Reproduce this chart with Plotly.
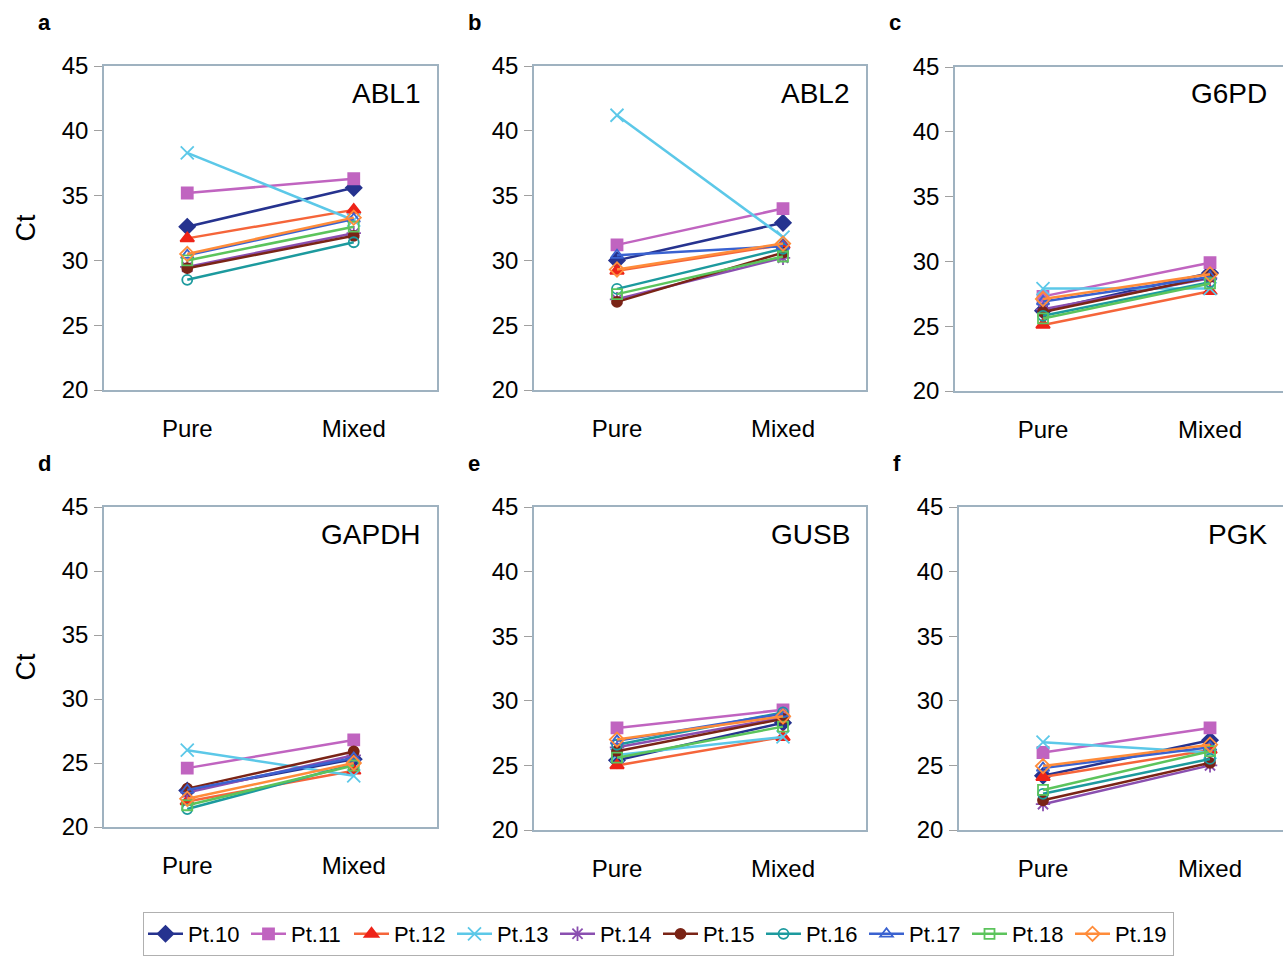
import plotly.graph_objects as go

conditions = ["Pure", "Mixed"]
patients = ["Pt.10", "Pt.11", "Pt.12", "Pt.13", "Pt.14", "Pt.15", "Pt.16", "Pt.17", "Pt.18", "Pt.19"]
genes = ["ABL1", "ABL2", "G6PD", "GAPDH", "GUSB", "PGK"]
panel_letters = ["a", "b", "c", "d", "e", "f"]

# Ct values per gene: list of [Pure, Mixed] per patient (Pt.10 .. Pt.19)
abl1 = [[32.6, 35.6], [35.2, 36.3], [31.7, 33.9], [38.3, 33.1], [29.5, 32.1],
        [29.4, 31.9], [28.5, 31.4], [30.4, 33.2], [30.0, 32.6], [30.5, 33.3]]
abl2 = [[30.0, 32.9], [31.2, 34.0], [29.2, 31.2], [41.2, 31.8], [27.0, 30.2],
        [26.8, 30.6], [27.8, 30.9], [30.4, 31.1], [27.4, 30.3], [29.3, 31.3]]
g6pd = [[26.2, 29.1], [27.3, 29.9], [25.1, 27.7], [27.9, 27.9], [26.3, 28.7],
        [26.1, 28.8], [25.8, 28.4], [26.9, 28.8], [25.6, 28.3], [27.1, 29.0]]
gapdh = [[22.85, 25.3], [24.6, 26.8], [22.0, 24.4], [26.0, 24.0], [22.7, 25.6],
         [23.0, 25.9], [21.4, 24.9], [22.9, 25.4], [21.7, 24.8], [22.2, 25.0]]
gusb = [[25.4, 28.3], [27.9, 29.3], [25.0, 27.2], [25.8, 27.2], [26.4, 28.7],
        [26.1, 28.6], [26.6, 29.1], [26.9, 29.0], [25.6, 28.0], [27.0, 28.8]]
pgk = [[24.2, 26.95], [26.0, 27.9], [24.1, 26.2], [26.8, 26.0], [22.0, 25.0],
       [22.3, 25.2], [22.8, 25.5], [24.8, 26.4], [23.1, 26.1], [24.95, 26.6]]
gene_data = [abl1, abl2, g6pd, gapdh, gusb, pgk]

y_ticks = [20, 25, 30, 35, 40, 45]

# styles
line_colors = ["#26338f", "#c064c0", "#f5653a", "#5cc8e8", "#8a4fb0",
               "#7a2416", "#1c9a9e", "#3a62d0", "#5cc45c", "#ff8c3a"]
marker_colors = ["#26338f", "#c064c0", "#ee2318", "#5cc8e8", "#8a4fb0",
                 "#7a2416", "#1c9a9e", "#3a62d0", "#5cc45c", "#ff8c3a"]
symbols = ["diamond", "square", "triangle-up", "x-thin-open", "asterisk-open",
           "circle", "circle-open", "triangle-up-open", "square-open", "diamond-open"]
sizes = [12, 11, 12, 13, 12, 10, 10, 11, 10, 11]

W, H = 1283, 960
# panel pixel boxes: (left, right, top, bottom, xrange)
panels = [
    (104, 437, 66, 390, [-0.5, 1.5]),
    (534, 866, 66, 390, [-0.5, 1.5]),
    (955, 1283, 67, 391, [-0.527, 1.437]),
    (104, 437, 507, 827, [-0.5, 1.5]),
    (534, 866, 507, 830, [-0.5, 1.5]),
    (959, 1283, 507, 830, [-0.503, 1.437]),
]

fig = go.Figure()
axis_line = "#9fb2c0"
font_family = "Liberation Sans, Arial, sans-serif"

for gi, data in enumerate(gene_data):
    xa = "x" if gi == 0 else f"x{gi+1}"
    ya = "y" if gi == 0 else f"y{gi+1}"
    for pi, pname in enumerate(patients):
        fig.add_trace(go.Scatter(
            x=conditions, y=data[pi], mode="lines+markers",
            name=pname, legendgroup=pname, showlegend=(gi == 0),
            line=dict(color=line_colors[pi], width=2.5),
            marker=dict(symbol=symbols[pi], size=sizes[pi], color=marker_colors[pi],
                        line=dict(color=marker_colors[pi], width=1.8)),
            xaxis=xa, yaxis=ya, cliponaxis=False,
        ))

layout = dict(
    width=W, height=H,
    margin=dict(l=0, r=0, t=0, b=0, autoexpand=False),
    paper_bgcolor="white", plot_bgcolor="white",
    font=dict(family=font_family, color="black", size=22),
    showlegend=True,
    legend=dict(
        orientation="h", x=143 / W, y=1 - 912 / H, xanchor="left", yanchor="top",
        bordercolor="#b0b0b0", borderwidth=1, bgcolor="white",
        font=dict(size=22, family=font_family), itemwidth=35,
        entrywidth=53, entrywidthmode="pixels", tracegroupgap=0,
    ),
)

annotations = []
for gi, (l, r, t, b, xr) in enumerate(panels):
    sfx = "" if gi == 0 else str(gi + 1)
    right_open = r >= W
    layout["xaxis" + sfx] = dict(
        domain=[l / W, r / W], anchor="y" + sfx, range=xr,
        type="category", categoryorder="array", categoryarray=conditions,
        showline=True, linecolor=axis_line, linewidth=1.5, mirror=True,
        showgrid=False, zeroline=False, ticks="", ticklabelstandoff=16,
        tickfont=dict(size=24, family=font_family),
    )
    layout["yaxis" + sfx] = dict(
        domain=[1 - b / H, 1 - t / H], anchor="x" + sfx, range=[20, 45],
        tickvals=y_ticks, showline=True, linecolor=axis_line, linewidth=1.5,
        mirror=(not right_open), showgrid=False, zeroline=False,
        ticks="outside", ticklen=8, tickcolor="#a0a0a0", tickwidth=1,
        ticklabelstandoff=1,
        tickfont=dict(size=24, family=font_family),
    )
    if gi in (0, 3):
        layout["yaxis" + sfx]["title"] = dict(text="Ct", font=dict(size=27, family=font_family), standoff=18)
    # panel letter
    annotations.append(dict(
        text=f"<b>{panel_letters[gi]}</b>", xref="paper", yref="paper",
        x=(l - 68) / W, y=1 - (t - 44) / H, xanchor="left", yanchor="middle",
        showarrow=False, font=dict(size=22, family=font_family),
    ))
    # gene label
    gx = min(r - 14, W - 3)
    annotations.append(dict(
        text=genes[gi], xref="paper", yref="paper",
        x=gx / W, y=1 - (t + 27) / H, xanchor="right", yanchor="middle",
        showarrow=False, font=dict(size=28, family=font_family),
    ))

layout["annotations"] = annotations
fig.update_layout(**layout)
fig.write_html("out.html")
